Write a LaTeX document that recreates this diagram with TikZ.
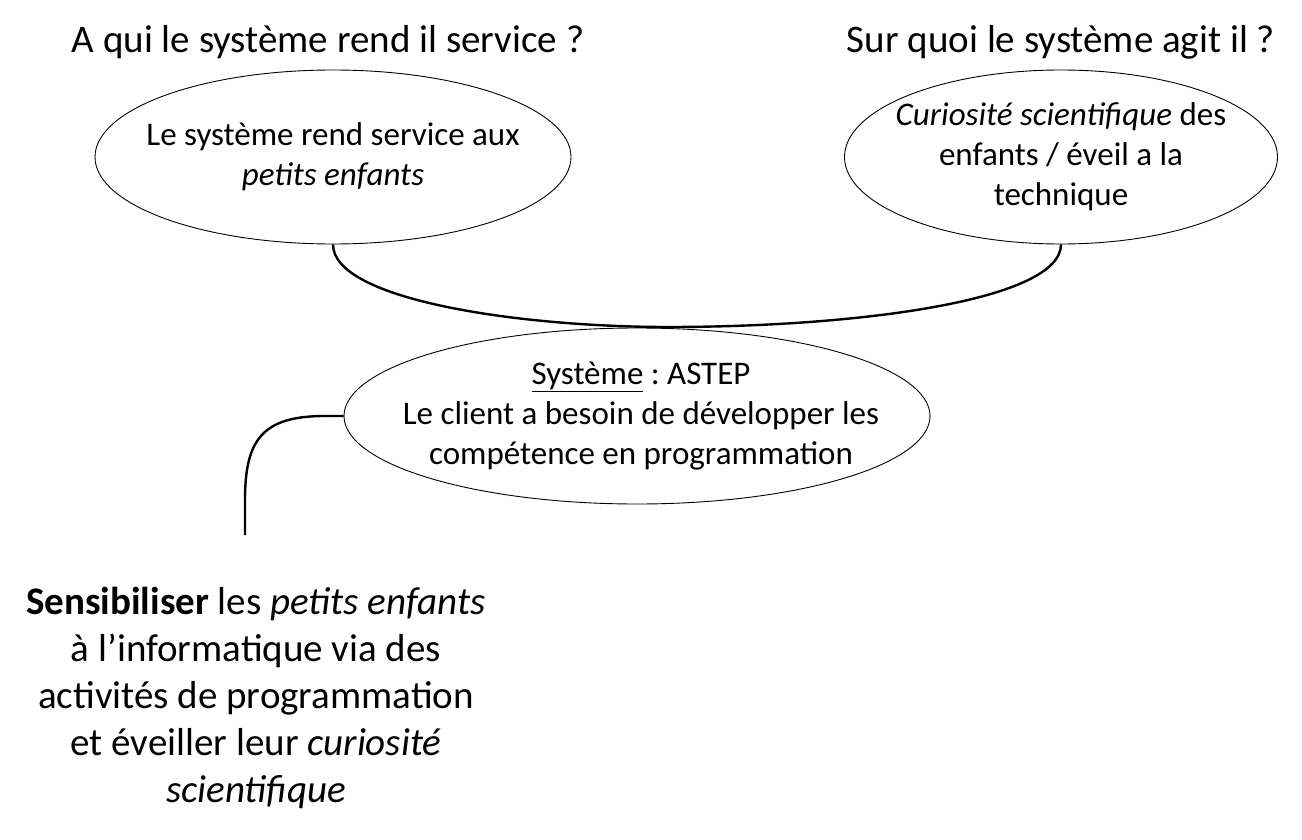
\documentclass[tikz,border=0pt]{standalone}
\usepackage{fontspec}
\setmainfont{Carlito}
\usetikzlibrary{shapes.geometric}
\frenchspacing
\tikzset{
  title/.style={font=\fontsize{39}{47}\selectfont, inner sep=0pt},
  bubble/.style={ellipse, draw, line width=0.9pt, inner sep=0pt},
  btext/.style={align=center, inner sep=0pt, font=\fontsize{33}{40}\selectfont},
  link/.style={line width=2.4pt},
  goal/.style={align=center, font=\fontsize{39}{47}\selectfont, inner sep=0pt}
}
\begin{document}
\begin{tikzpicture}[x=1pt,y=-1pt]
\useasboundingbox (0,0) rectangle (1302,840);
\node[title] (t1) at (328,42) {A qui le système rend il service ?};
\node[title] (t2) at (1061,42) {Sur quoi le système agit il ?};
\node[bubble, minimum width=476pt, minimum height=174pt] (e1) at (333,157) {};
\node[btext] (l1) at (e1.center) {Le système rend service aux\\\textit{petits enfants}};
\node[bubble, minimum width=433pt, minimum height=174pt] (e2) at (1061,157) {};
\node[btext] (l2) at (e2.center) {\textit{Curiosité scientifique} des\\enfants / éveil a la\\technique};
\node[bubble, minimum width=586pt, minimum height=176pt] (e3) at (637,416) {};
\node[btext] (l3) at (641,416) {\underline{Système} : ASTEP\\Le client a besoin de développer les\\compétence en programmation};
\coordinate (m) at (668,327);
\coordinate (f) at (245,535);
\draw[link] (e1.south) .. controls (333,300) and (520,327) .. (m)
  .. controls (860,327) and (1061,300) .. (e2.south);
\draw[link] (e3.west) -- (325,416) .. controls (262,416) and (245,440) .. (245,500) -- (f);
\node[goal] (g) at (256,698)
  {\textbf{Sensibiliser} les \textit{petits enfants}\\à l’informatique via des\\activités de programmation\\et éveiller leur \textit{curiosité}\\\textit{scientifique}};
\end{tikzpicture}
\end{document}
